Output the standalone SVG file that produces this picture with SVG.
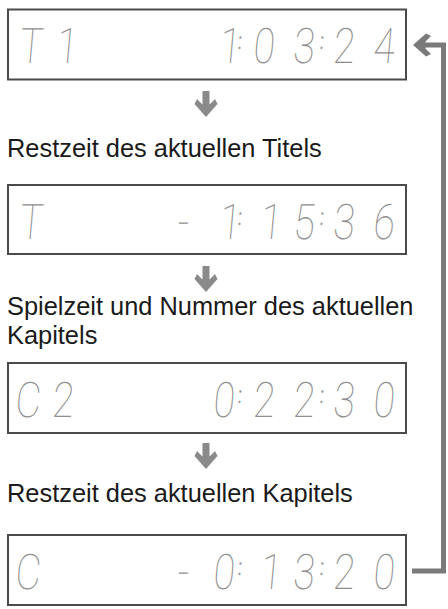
<svg xmlns="http://www.w3.org/2000/svg" xmlns:xlink="http://www.w3.org/1999/xlink" width="448" height="609" viewBox="0 0 448 609">
<style>
.box{fill:#fff;stroke:#4a4a4a;stroke-width:2}
.seg{font-family:Roboto,"Liberation Sans",sans-serif;font-weight:100;font-size:49px;fill:#8f8f8f;text-anchor:middle}
.col{font-size:24px;font-weight:400;fill:#9a9a9a}
.lbl{font-family:"Liberation Sans",Arial,sans-serif;font-size:25.4px;fill:#1a1a1a}
.arr{fill:#8a8a8a}
.ret{fill:none;stroke:#7a7a7a;stroke-width:5}
</style>
<defs>
<path id="down" d="M-3.5 -26 H3.5 V-12.5 L9 -18 L11.5 -13 L0 0 L-11.5 -13 L-9 -18 L-3.5 -12.5 Z"/>
<path id="head" d="M0 0 L-11.5 -13 L-9 -18 L-3.5 -12.5 L3.5 -12.5 L9 -18 L11.5 -13 Z"/>
</defs>
<rect width="448" height="609" fill="#fff"/>

<g id="display1">
<rect class="box" x="8" y="9.5" width="398" height="70"/>
<g transform="translate(0,63) skewX(-5) scale(0.8,1)">
<text class="seg" x="37.5 82.5">T1</text>
<text class="seg" x="286.25">1<tspan class="col" x="297.5" y="-14">:</tspan><tspan x="328.75 378.75" y="0">03</tspan><tspan class="col" x="400" y="-14">:</tspan><tspan x="428.75 478.75" y="0">24</tspan></text>
</g>
</g>

<g id="label1"><text class="lbl" x="7" y="157">Restzeit des aktuellen Titels</text></g>

<g id="display2">
<rect class="box" x="8" y="185" width="398" height="69"/>
<g transform="translate(0,239) skewX(-5) scale(0.8,1)">
<text class="seg" x="37.5">T</text>
<text class="seg" x="227.5 286.25">-1<tspan class="col" x="297.5" y="-14">:</tspan><tspan x="337.5 378.75" y="0">15</tspan><tspan class="col" x="400" y="-14">:</tspan><tspan x="428.75 478.75" y="0">36</tspan></text>
</g>
</g>

<g id="label2"><text class="lbl" x="7" y="315">Spielzeit und Nummer des aktuellen</text><text class="lbl" x="7" y="344">Kapitels</text></g>

<g id="display3">
<rect class="box" x="8" y="363" width="398" height="70"/>
<g transform="translate(0,417) skewX(-5) scale(0.8,1)">
<text class="seg" x="33.75 77.5">C2</text>
<text class="seg" x="278.75">0<tspan class="col" x="297.5" y="-14">:</tspan><tspan x="328.75 378.75" y="0">22</tspan><tspan class="col" x="400" y="-14">:</tspan><tspan x="428.75 478.75" y="0">30</tspan></text>
</g>
</g>

<g id="label3"><text class="lbl" x="7" y="502">Restzeit des aktuellen Kapitels</text></g>

<g id="display4">
<rect class="box" x="8" y="535" width="398" height="70"/>
<g transform="translate(0,589) skewX(-5) scale(0.8,1)">
<text class="seg" x="33.75">C</text>
<text class="seg" x="227.5 278.75">-0<tspan class="col" x="297.5" y="-14">:</tspan><tspan x="337.5 378.75" y="0">13</tspan><tspan class="col" x="400" y="-14">:</tspan><tspan x="428.75 478.75" y="0">20</tspan></text>
</g>
</g>

<g id="connectors">
<use xlink:href="#down" class="arr" transform="translate(206,117)"/>
<use xlink:href="#down" class="arr" transform="translate(206,292)"/>
<use xlink:href="#down" class="arr" transform="translate(206,469)"/>
<path class="ret" d="M412 571 H443.5 V45 H421"/>
<use xlink:href="#head" fill="#7a7a7a" transform="translate(413,45) rotate(90)"/>
</g>
</svg>
